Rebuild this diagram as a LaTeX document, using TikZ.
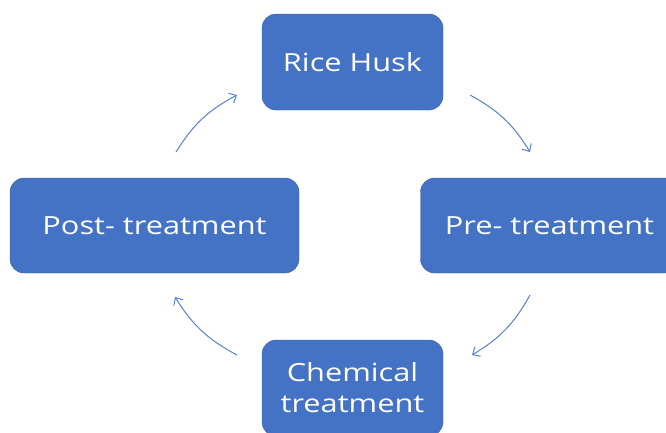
\documentclass[tikz,border=0pt]{standalone}
\usepackage{fontspec}
\setmainfont{Open Sans}[FakeStretch=1.23]
\usetikzlibrary{arrows.meta}
\definecolor{boxblue}{HTML}{4472C4}
\tikzset{
  stagebox/.style={draw=boxblue!85!black, fill=boxblue, rounded corners=14pt, text=white,
    font=\fontsize{25}{31}\selectfont, align=center, inner sep=0pt},
  flow/.style={draw=boxblue!90, line width=1pt, -{Straight Barb[length=6pt,width=11pt]}}
}
\begin{document}
\begin{tikzpicture}[x=1pt,y=-1pt]
  \useasboundingbox (0,0) rectangle (666,432);
  \clip (0,0) rectangle (666,432);
  % the four stages
  \node[stagebox, minimum width=181pt, minimum height=96pt] (husk) at (352.5,62) {Rice Husk};
  \node[stagebox, minimum width=258pt, minimum height=95pt] (pre) at (549.5,225.5) {Pre- treatment};
  \node[stagebox, minimum width=181pt, minimum height=96pt] (chem) at (352.5,388) {Chemical\\treatment};
  \node[stagebox, minimum width=289pt, minimum height=95pt] (post) at (154.5,225.5) {Post- treatment};
  % arrow ends
  \coordinate (a1) at (470,95);
  \coordinate (b1) at (530,152);
  \coordinate (a2) at (530,295);
  \coordinate (b2) at (472,355);
  \coordinate (a3) at (237,355);
  \coordinate (b3) at (175,297);
  \coordinate (a4) at (176,152);
  \coordinate (b4) at (237,95);
  \draw[flow] (a1) to[bend left=15] (b1);
  \draw[flow] (a2) to[bend left=15] (b2);
  \draw[flow] (a3) to[bend left=15] (b3);
  \draw[flow] (a4) to[bend left=15] (b4);
\end{tikzpicture}
\end{document}
